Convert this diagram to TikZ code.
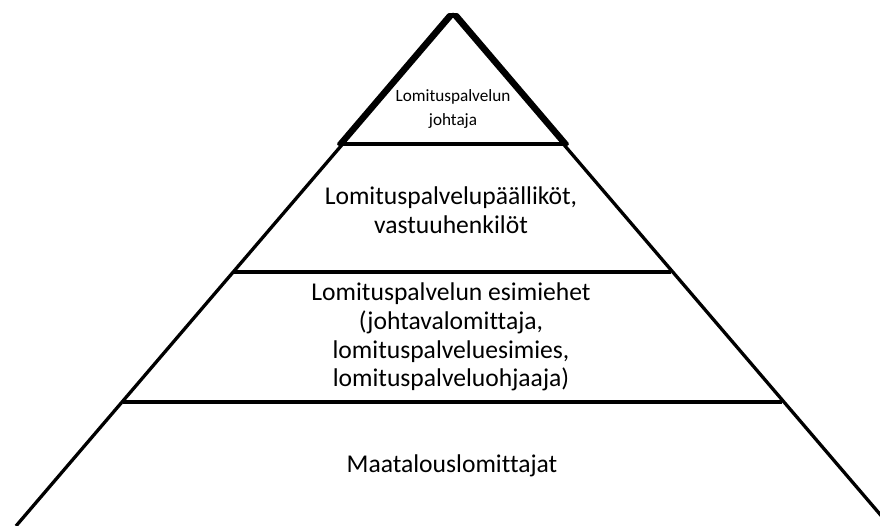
\documentclass[tikz,border=0pt]{standalone}
\usepackage{fontspec}
\setmainfont[Ligatures=NoCommon]{Carlito}
\begin{document}
\begin{tikzpicture}[x=1pt,y=-1pt,
  edge/.style={line width=3.3pt, black},
  topedge/.style={line width=3.9pt, black, line join=round},
  bigtext/.style={align=center, inner sep=0pt, text=black, font=\fontsize{25.6}{28.8}\selectfont},
  smalltext/.style={align=center, inner sep=0pt, text=black, font=\fontsize{17.2}{24}\selectfont}]
\useasboundingbox (0,0) rectangle (880,526);
\clip (0,0) rectangle (880,526);
% outer pyramid
\coordinate (apex) at (453,15);
\coordinate (bl) at (16,526);
\coordinate (br) at (890,526);
\draw[edge] (bl) -- (apex) -- (br);
% level lines
\coordinate (l2a) at (233,272);
\coordinate (l2b) at (671,272);
\coordinate (l3a) at (123,402);
\coordinate (l3b) at (782,402);
\draw[edge] (l2a) -- (l2b);
\draw[edge] (l3a) -- (l3b);
% top triangle
\coordinate (t1) at (339,144);
\coordinate (t2) at (567,144);
\coordinate (ta) at (449,15);
\coordinate (tb) at (457,15);
\draw[topedge] (t1) -- (ta) -- (tb) -- (t2) -- cycle;
% texts
\node[smalltext] (n1) at (453,109) {Lomituspalvelun\\johtaja};
\node[bigtext] (n2) at (451,210) {Lomituspalvelupäälliköt,\\vastuuhenkilöt};
\node[bigtext] (n3) at (451,337) {Lomituspalvelun esimiehet\\(johtavalomittaja,\\lomituspalveluesimies,\\lomituspalveluohjaaja)};
\node[bigtext] (n4) at (452,466) {Maatalouslomittajat};
\end{tikzpicture}
\end{document}
